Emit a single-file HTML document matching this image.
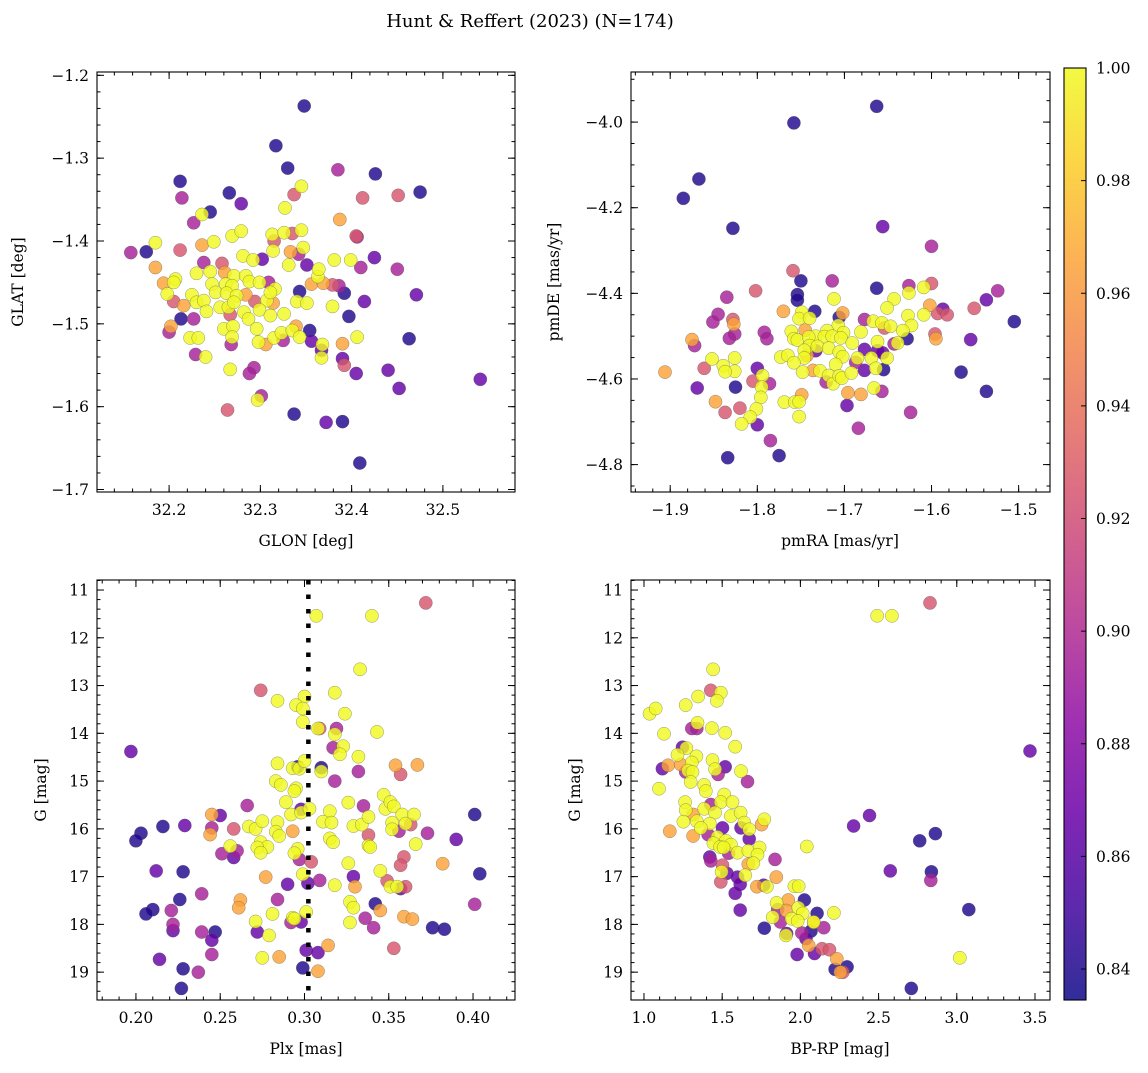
<!DOCTYPE html>
<html><head><meta charset="utf-8"><style>
body{margin:0;background:#fff}
svg text{font-family:"DejaVu Serif","Liberation Serif",serif;fill:#000}
</style></head><body>
<svg id="fig" width="1148" height="1068" viewBox="0 0 1148 1068" xmlns="http://www.w3.org/2000/svg">
<defs><linearGradient id="plasma" x1="0" y1="1" x2="0" y2="0">
<stop offset="0" stop-color="#0d0887"/><stop offset="0.1" stop-color="#41049d"/><stop offset="0.2" stop-color="#6a00a8"/><stop offset="0.3" stop-color="#8f0da4"/><stop offset="0.4" stop-color="#b12a90"/><stop offset="0.5" stop-color="#cc4778"/><stop offset="0.6" stop-color="#e16462"/><stop offset="0.7" stop-color="#f2844b"/><stop offset="0.8" stop-color="#fca636"/><stop offset="0.9" stop-color="#fcce25"/><stop offset="1" stop-color="#f0f921"/></linearGradient></defs>
<text x="530" y="27" font-size="18" text-anchor="middle">Hunt &amp; Reffert (2023) (N=174)</text>
<text x="306" y="546" font-size="15.5" text-anchor="middle">GLON [deg]</text>
<text transform="translate(23,282) rotate(-90)" font-size="15.5" text-anchor="middle">GLAT [deg]</text>
<text x="840" y="546" font-size="15.5" text-anchor="middle">pmRA [mas/yr]</text>
<text transform="translate(559,282) rotate(-90)" font-size="15.5" text-anchor="middle">pmDE [mas/yr]</text>
<text x="306" y="1054" font-size="15.5" text-anchor="middle">Plx [mas]</text>
<text transform="translate(46,790) rotate(-90)" font-size="15.5" text-anchor="middle">G [mag]</text>
<text x="840" y="1054" font-size="15.5" text-anchor="middle">BP-RP [mag]</text>
<text transform="translate(580,790) rotate(-90)" font-size="15.5" text-anchor="middle">G [mag]</text>
</svg>
<script>
const glon=[32.348,32.317,32.330,32.385,32.426,32.475,32.212,32.214,32.266,32.279,32.337,32.345,32.412,32.451,32.327,32.245,32.236,32.227,32.387,32.405,32.406,32.158,32.175,32.185,32.212,32.236,32.249,32.269,32.279,32.313,32.326,32.335,32.345,32.315,32.314,32.333,32.342,32.347,32.281,32.302,32.292,32.331,32.351,32.425,32.381,32.399,32.410,32.450,32.471,32.185,32.194,32.207,32.205,32.238,32.230,32.245,32.258,32.261,32.271,32.284,32.288,32.299,32.309,32.316,32.247,32.262,32.269,32.251,32.263,32.274,32.284,32.225,32.198,32.205,32.216,32.230,32.238,32.256,32.241,32.265,32.271,32.294,32.307,32.311,32.314,32.343,32.356,32.363,32.364,32.369,32.379,32.386,32.392,32.414,32.340,32.351,32.379,32.397,32.282,32.299,32.311,32.326,32.267,32.287,32.213,32.227,32.202,32.200,32.260,32.270,32.296,32.339,32.354,32.223,32.232,32.269,32.298,32.306,32.315,32.325,32.323,32.335,32.343,32.356,32.368,32.367,32.367,32.390,32.406,32.390,32.392,32.463,32.268,32.229,32.240,32.267,32.293,32.288,32.405,32.440,32.452,32.541,32.301,32.297,32.264,32.337,32.372,32.390,32.409];
const glat=[-1.237,-1.285,-1.312,-1.314,-1.319,-1.341,-1.328,-1.348,-1.342,-1.355,-1.344,-1.334,-1.348,-1.345,-1.360,-1.365,-1.368,-1.378,-1.374,-1.394,-1.395,-1.414,-1.413,-1.402,-1.411,-1.405,-1.401,-1.394,-1.388,-1.392,-1.390,-1.391,-1.387,-1.400,-1.412,-1.413,-1.416,-1.408,-1.418,-1.422,-1.423,-1.429,-1.429,-1.420,-1.423,-1.423,-1.432,-1.434,-1.465,-1.432,-1.451,-1.446,-1.450,-1.426,-1.439,-1.437,-1.427,-1.438,-1.442,-1.442,-1.449,-1.450,-1.450,-1.458,-1.452,-1.452,-1.454,-1.462,-1.463,-1.466,-1.465,-1.465,-1.464,-1.473,-1.478,-1.474,-1.472,-1.480,-1.485,-1.480,-1.474,-1.473,-1.472,-1.462,-1.475,-1.461,-1.452,-1.443,-1.434,-1.451,-1.453,-1.454,-1.463,-1.473,-1.473,-1.475,-1.479,-1.491,-1.486,-1.483,-1.490,-1.488,-1.489,-1.494,-1.494,-1.494,-1.503,-1.510,-1.506,-1.503,-1.506,-1.503,-1.508,-1.517,-1.517,-1.516,-1.522,-1.525,-1.517,-1.520,-1.511,-1.508,-1.516,-1.521,-1.525,-1.532,-1.541,-1.524,-1.516,-1.542,-1.550,-1.518,-1.525,-1.537,-1.540,-1.555,-1.553,-1.560,-1.560,-1.556,-1.578,-1.567,-1.587,-1.592,-1.604,-1.609,-1.619,-1.618,-1.668];
const probA=[.84,.84,.84,.895,.84,.84,.84,.895,.84,.865,.925,1,.925,.925,1,.84,1,.895,.965,.925,.895,.895,.84,1,.925,.965,1,1,1,1,1,.925,1,.925,1,.965,.895,1,1,.865,1,1,.865,.865,1,1,.895,.895,.865,.965,.965,1,1,.895,1,1,.925,.965,1,1,1,1,.895,1,1,1,1,1,1,1,.965,1,1,.925,.965,1,1,1,1,1,1,.925,1,1,.965,.84,.965,1,1,.965,.925,.895,.84,.865,1,1,1,.84,1,1,1,1,.925,1,.84,.895,.965,.895,1,1,1,.965,.84,1,1,1,1,.965,1,.895,1,1,1,.865,1,.865,1,.965,1,.865,.925,.84,.895,.895,1,1,.895,.895,.865,.865,.865,.865,.895,1,.925,.84,.865,.84,.84];

const pmra=[-1.663,-1.758,-1.867,-1.885,-1.828,-1.656,-1.600,-1.759,-1.750,-1.714,-1.663,-1.626,-1.600,-1.609,-1.626,-1.754,-1.754,-1.802,-1.835,-1.712,-1.643,-1.651,-1.524,-1.537,-1.551,-1.505,-1.602,-1.587,-1.593,-1.582,-1.770,-1.734,-1.749,-1.752,-1.740,-1.702,-1.706,-1.845,-1.851,-1.828,-1.827,-1.677,-1.667,-1.657,-1.654,-1.647,-1.681,-1.627,-1.609,-1.623,-1.633,-1.707,-1.720,-1.701,-1.745,-1.733,-1.723,-1.714,-1.704,-1.691,-1.761,-1.758,-1.754,-1.741,-1.792,-1.789,-1.826,-1.832,-1.875,-1.872,-1.740,-1.731,-1.718,-1.746,-1.733,-1.706,-1.702,-1.677,-1.662,-1.656,-1.662,-1.643,-1.639,-1.628,-1.596,-1.595,-1.555,-1.773,-1.765,-1.746,-1.758,-1.743,-1.685,-1.669,-1.651,-1.687,-1.677,-1.664,-1.655,-1.852,-1.839,-1.826,-1.826,-1.837,-1.800,-1.794,-1.795,-1.805,-1.786,-1.796,-1.801,-1.808,-1.818,-1.800,-1.785,-1.775,-1.834,-1.748,-1.736,-1.728,-1.718,-1.721,-1.713,-1.710,-1.706,-1.703,-1.692,-1.666,-1.657,-1.696,-1.681,-1.697,-1.684,-1.624,-1.566,-1.537,-1.906,-1.861,-1.869,-1.825,-1.848,-1.837,-1.820,-1.769,-1.757,-1.752,-1.749,-1.752];
const pmde=[-3.963,-4.002,-4.133,-4.178,-4.248,-4.244,-4.290,-4.347,-4.371,-4.371,-4.388,-4.382,-4.377,-4.386,-4.399,-4.403,-4.416,-4.394,-4.409,-4.413,-4.413,-4.434,-4.394,-4.415,-4.435,-4.466,-4.428,-4.437,-4.447,-4.450,-4.442,-4.442,-4.444,-4.459,-4.458,-4.446,-4.456,-4.449,-4.467,-4.461,-4.472,-4.461,-4.465,-4.469,-4.481,-4.477,-4.490,-4.452,-4.450,-4.475,-4.487,-4.475,-4.487,-4.492,-4.486,-4.500,-4.501,-4.500,-4.504,-4.516,-4.489,-4.506,-4.509,-4.502,-4.491,-4.506,-4.495,-4.505,-4.508,-4.522,-4.522,-4.524,-4.528,-4.533,-4.534,-4.537,-4.548,-4.531,-4.534,-4.539,-4.513,-4.518,-4.516,-4.506,-4.495,-4.506,-4.508,-4.549,-4.545,-4.551,-4.562,-4.545,-4.551,-4.551,-4.551,-4.561,-4.580,-4.575,-4.578,-4.553,-4.569,-4.551,-4.582,-4.583,-4.575,-4.592,-4.619,-4.605,-4.611,-4.643,-4.670,-4.689,-4.705,-4.707,-4.744,-4.779,-4.784,-4.584,-4.580,-4.581,-4.592,-4.607,-4.611,-4.566,-4.593,-4.598,-4.586,-4.621,-4.629,-4.632,-4.636,-4.662,-4.715,-4.678,-4.584,-4.629,-4.584,-4.575,-4.621,-4.619,-4.653,-4.678,-4.668,-4.654,-4.654,-4.653,-4.637,-4.688];
const probB=[.84,.84,.84,.84,.84,.865,.895,.925,.84,.895,.84,.895,.925,1,1,.84,.84,.925,.895,1,1,1,.895,.865,.925,.84,.965,.865,.925,.925,.965,.84,1,1,1,.965,.84,.895,.895,.925,.965,.895,1,1,.925,1,1,1,1,1,1,1,1,1,.965,1,1,1,1,1,1,1,1,1,.895,.895,.895,.895,.965,.895,1,1,1,1,.865,1,1,.865,.865,.865,1,.895,1,.84,.925,.965,.865,1,1,1,1,.965,1,1,1,.895,.865,1,.84,1,1,1,1,1,.865,1,1,.925,.895,1,1,1,1,.865,.895,.84,.84,1,.965,1,1,.895,1,1,1,1,1,1,.895,.965,.965,.865,.895,.895,.84,.84,.965,.925,.865,.84,.965,.925,.925,1,1,1,.965,1];

const plx=[.372,.307,.340,.333,.274,.284,.318,.300,.295,.299,.324,.299,.309,.308,.319,.318,.343,.317,.323,.321,.332,.197,.284,.296,.293,.297,.300,.310,.310,.332,.318,.354,.367,.357,.283,.286,.295,.294,.289,.292,.298,.298,.303,.266,.250,.245,.229,.216,.203,.200,.245,.258,.244,.267,.271,.275,.284,.283,.285,.293,.315,.311,.316,.326,.329,.334,.335,.338,.347,.348,.351,.353,.352,.352,.356,.358,.365,.363,.360,.373,.401,.390,.338,.338,.339,.366,.315,.317,.256,.260,.251,.258,.274,.278,.272,.274,.296,.294,.297,.304,.359,.357,.382,.326,.345,.212,.228,.404,.277,.299,.329,.309,.290,.302,.318,.330,.349,.351,.355,.357,.360,.239,.226,.262,.261,.284,.327,.329,.342,.345,.210,.206,.221,.271,.281,.293,.294,.292,.298,.301,.327,.336,.341,.359,.364,.376,.383,.401,.222,.222,.239,.247,.245,.272,.279,.353,.314,.301,.308,.245,.275,.285,.214,.228,.237,.299,.308,.227];
const gmagC=[11.27,11.54,11.54,12.66,13.10,13.32,13.15,13.23,13.41,13.48,13.59,13.76,13.90,13.90,13.90,14.02,13.97,14.30,14.27,14.44,14.49,14.38,14.63,14.70,14.73,14.74,14.58,14.72,14.80,14.80,15.00,14.67,14.66,14.86,15.00,15.08,15.15,15.21,15.44,15.70,15.59,15.66,15.58,15.51,15.72,15.70,15.93,15.95,16.09,16.25,15.98,16.00,16.12,15.95,16.00,15.84,15.86,16.06,16.15,16.05,15.63,15.85,15.87,15.45,15.94,15.91,15.52,15.75,15.29,15.58,15.44,15.53,15.87,16.01,16.05,15.70,15.70,15.91,15.89,16.09,15.70,16.22,16.13,16.35,16.38,16.32,16.20,16.28,16.36,16.46,16.52,16.60,16.28,16.38,16.39,16.50,16.42,16.51,16.64,16.69,16.59,16.76,16.73,16.72,16.88,16.88,16.90,16.94,17.01,16.95,17.00,17.08,17.16,17.14,17.18,17.21,17.09,17.21,17.21,17.25,17.21,17.36,17.48,17.49,17.65,17.48,17.53,17.65,17.57,17.71,17.69,17.78,17.71,17.94,17.78,17.86,17.88,17.96,17.95,17.74,17.96,17.87,18.07,17.84,17.89,18.07,18.10,17.58,18.00,18.13,18.16,18.16,18.33,18.16,18.23,18.50,18.44,18.54,18.59,18.63,18.70,18.68,18.73,18.93,19.00,18.91,18.98,19.34];
const probC=[.925,1,1,1,.925,1,1,1,1,1,1,1,.925,1,.895,1,1,.895,1,1,1,.865,1,.84,1,1,1,.84,1,.895,.895,.965,.965,.925,1,1,1,1,1,1,.865,1,1,.895,.865,.965,.865,.84,.84,.84,.895,.925,.965,1,1,1,1,1,1,.965,1,1,1,1,1,1,.895,1,1,1,1,1,1,1,.895,1,1,.925,1,.895,.84,.865,.925,1,1,1,1,1,1,.895,.895,.865,1,1,1,1,1,1,.895,.925,.925,.925,.965,1,1,.865,.84,.84,.965,1,.865,.895,.865,.865,1,.965,.925,1,1,.865,.925,.895,.84,.965,.965,.895,1,1,.84,.965,.84,.84,.895,1,1,1,1,.895,.865,1,1,.895,.895,.965,.965,.84,.84,.895,.895,.865,.895,.84,.865,.865,1,.925,.965,.865,.865,.895,1,.965,.865,.84,.895,.84,.965,.84];

const bprp=[2.829,2.491,2.585,1.442,1.427,1.491,1.466,1.346,1.267,1.036,1.075,1.342,1.306,1.338,1.434,1.519,1.128,1.583,1.246,1.271,1.214,1.335,1.235,1.306,1.282,1.310,1.267,1.438,1.455,1.519,1.474,1.118,1.154,1.620,1.662,1.299,1.385,1.395,1.096,3.468,1.513,1.263,1.267,1.427,1.385,1.491,1.566,1.455,1.556,1.618,1.316,1.252,1.338,1.421,1.363,1.752,1.769,1.641,1.620,1.673,1.502,1.165,1.314,1.410,1.470,1.673,1.444,1.524,1.556,1.487,1.509,1.598,1.541,1.667,1.739,1.726,2.041,1.421,1.427,1.838,1.699,1.667,1.502,1.530,1.496,1.598,1.647,1.491,1.615,1.722,1.765,1.786,1.846,1.962,1.989,1.583,1.615,1.848,1.923,2.026,1.987,1.910,1.855,2.015,2.107,2.214,1.823,1.944,1.983,2.085,2.085,1.872,2.150,1.769,1.912,1.908,2.009,2.068,2.036,2.053,1.979,2.090,2.139,2.186,2.233,2.299,2.222,2.271,2.256,2.340,2.442,2.763,2.863,2.575,2.838,2.834,3.077,3.019,2.709];
const gmagD=[11.27,11.54,11.54,12.66,13.10,13.15,13.32,13.23,13.41,13.59,13.48,13.78,13.90,13.90,13.89,13.99,14.01,14.28,14.29,14.31,14.45,14.48,14.65,14.61,14.78,14.81,14.81,14.56,14.75,14.70,14.86,14.74,14.67,14.79,15.01,15.02,15.08,15.21,15.16,14.37,15.28,15.44,15.61,15.49,15.58,15.44,15.44,15.66,15.73,15.66,15.70,15.85,15.84,15.89,15.98,15.91,15.80,15.87,15.98,16.01,15.98,16.05,16.15,16.12,16.17,16.21,16.30,16.25,16.33,16.38,16.39,16.50,16.51,16.46,16.39,16.54,16.37,16.59,16.67,16.64,16.72,16.74,16.76,16.93,16.90,17.01,16.97,17.11,17.16,17.21,17.18,17.21,17.01,17.20,17.20,17.35,17.70,17.55,17.49,17.49,17.65,17.71,17.69,17.77,17.77,17.76,17.85,17.88,17.93,17.95,17.96,17.95,18.07,18.08,18.19,18.23,18.18,18.14,18.30,18.44,18.63,18.61,18.51,18.53,18.72,18.89,18.94,19.00,19.00,15.94,15.72,16.25,16.10,16.88,16.90,17.08,17.69,18.70,19.34];
const probD=[.925,1,1,1,.925,1,1,1,1,1,1,1,.895,.895,1,1,1,1,.865,1,1,1,.965,1,1,1,.895,1,1,.865,.895,.865,.965,1,.895,1,1,1,1,.865,1,1,1,.895,1,1,1,1,1,1,.965,1,1,1,1,.965,1,1,.865,1,.865,.965,.965,.895,1,.865,1,1,1,1,1,1,.895,1,1,1,1,.865,.895,.895,1,.965,.925,.865,1,.865,1,.925,.865,.965,.865,1,.965,1,1,.865,.865,1,.965,.84,1,.965,.895,1,.84,1,1,1,1,1,.965,.895,.895,.84,.865,1,.895,.84,.865,.965,.865,.865,.925,.925,.965,.84,.84,.925,.965,.865,.865,.84,.84,.865,.84,.895,.84,1,.84];

const vmin=0.8345, vmax=1.0;
const stops=["#0d0887","#41049d","#6a00a8","#8f0da4","#b12a90","#cc4778","#e16462","#f2844b","#fca636","#fcce25","#f0f921"];
function hx(h){return [1,3,5].map(i=>parseInt(h.substr(i,2),16));}
function cmap(v){let t=Math.max(0,Math.min(1,(v-vmin)/(vmax-vmin)))*10;let i=Math.min(9,Math.floor(t)),f=t-i;const a=hx(stops[i]),b=hx(stops[i+1]);return "rgb("+a.map((x,k)=>Math.round(x+(b[k]-x)*f)).join(",")+")";}
const NS="http://www.w3.org/2000/svg";
const svg=document.getElementById("fig");
function mk(tag,attrs,parent){const e=document.createElementNS(NS,tag);for(const k in attrs)e.setAttribute(k,attrs[k]);(parent||svg).appendChild(e);return e;}
function fmt(v,d){return (v<0?"\u2212":"")+Math.abs(v).toFixed(d);}

function panel(cfg){
  const g=mk("g",{});
  
  
  const sx=v=>cfg.l+(v-cfg.x0)/(cfg.x1-cfg.x0)*(cfg.r-cfg.l);
  const sy=v=>cfg.t+(v-cfg.yT)/(cfg.yB-cfg.yT)*(cfg.b-cfg.t);
  const idx=cfg.xs.map((_,i)=>i).sort((a,b)=>cfg.cs[a]-cfg.cs[b]);
  const pg=mk("g",{},g);
  
  
  idx.forEach(i=>{
    const c=mk("circle",{cx:sx(cfg.xs[i]).toFixed(1),cy:sy(cfg.ys[i]).toFixed(1),r:6.6,fill:cmap(cfg.cs[i]),"fill-opacity":0.82,stroke:"#555","stroke-width":0.5,"stroke-opacity":0.6},pg);
    
    
  });
  if(cfg.vline!==undefined){
    const ln=mk("line",{x1:sx(cfg.vline),x2:sx(cfg.vline),y1:cfg.t,y2:cfg.b,stroke:"#000","stroke-width":4.5,"stroke-dasharray":"4.5 10"},g);
    
    
  }
  const fr=mk("rect",{x:cfg.l,y:cfg.t,width:cfg.r-cfg.l,height:cfg.b-cfg.t,fill:"none",stroke:"#000","stroke-width":1.1},g);
  
  
  const tk=(x1,y1,x2,y2)=>mk("line",{x1,y1,x2,y2,stroke:"#000","stroke-width":1},g);
  const lo=Math.min(cfg.x0,cfg.x1),hi=Math.max(cfg.x0,cfg.x1);
  for(let k=Math.ceil(lo/cfg.xm-1e-6);k*cfg.xm<=hi+1e-9;k++){const x=sx(k*cfg.xm);tk(x,cfg.b,x,cfg.b-3.5);tk(x,cfg.t,x,cfg.t+3.5);}
  const ylo=Math.min(cfg.yT,cfg.yB),yhi=Math.max(cfg.yT,cfg.yB);
  for(let k=Math.ceil(ylo/cfg.ym-1e-6);k*cfg.ym<=yhi+1e-9;k++){const y=sy(k*cfg.ym);tk(cfg.l,y,cfg.l+3.5,y);tk(cfg.r,y,cfg.r-3.5,y);}
  cfg.xt.forEach(v=>{const x=sx(v);tk(x,cfg.b,x,cfg.b-7);tk(x,cfg.t,x,cfg.t+7);
    const t=mk("text",{x:x,y:cfg.b+23,"font-size":15.5,"text-anchor":"middle"},g);t.textContent=fmt(v,cfg.xd);
    
    });
  cfg.yt.forEach(v=>{const y=sy(v);tk(cfg.l,y,cfg.l+7,y);tk(cfg.r,y,cfg.r-7,y);
    const t=mk("text",{x:cfg.l-8,y:y+5.5,"font-size":15.5,"text-anchor":"end"},g);t.textContent=fmt(v,cfg.yd);
    
    });
}

panel({name:"panel-position",l:97,r:515,t:72,b:492,x0:32.121,x1:32.579,yT:-1.196,yB:-1.703,xs:glon,ys:glat,cs:probA,xt:[32.2,32.3,32.4,32.5],xd:1,xm:0.02,yt:[-1.2,-1.3,-1.4,-1.5,-1.6,-1.7],yd:1,ym:0.02});
panel({name:"panel-proper-motion",l:631,r:1050,t:72,b:492,x0:-1.945,x1:-1.464,yT:-3.883,yB:-4.864,xs:pmra,ys:pmde,cs:probB,xt:[-1.9,-1.8,-1.7,-1.6,-1.5],xd:1,xm:0.02,yt:[-4.0,-4.2,-4.4,-4.6,-4.8],yd:1,ym:0.05});
panel({name:"panel-parallax",l:97,r:515,t:580,b:1000,x0:0.1769,x1:0.4249,yT:10.79,yB:19.583,xs:plx,ys:gmagC,cs:probC,xt:[0.20,0.25,0.30,0.35,0.40],xd:2,xm:0.01,yt:[11,12,13,14,15,16,17,18,19],yd:0,ym:0.2,vline:0.3023});
panel({name:"panel-cmd",l:631,r:1050,t:580,b:1000,x0:0.917,x1:3.596,yT:10.79,yB:19.583,xs:bprp,ys:gmagD,cs:probD,xt:[1.0,1.5,2.0,2.5,3.0,3.5],xd:1,xm:0.1,yt:[11,12,13,14,15,16,17,18,19],yd:0,ym:0.2});

const cbTicks=[0.84,0.86,0.88,0.90,0.92,0.94,0.96,0.98,1.00];
const cb=mk("g",{});


const cbT=68,cbB=1000,cbL=1064,cbR=1086;
const cy=v=>cbB-(v-vmin)/(vmax-vmin)*(cbB-cbT);
mk("rect",{x:cbL,y:cbT,width:cbR-cbL,height:cbB-cbT,fill:"url(#plasma)","fill-opacity":0.85,stroke:"#000","stroke-width":1.1},cb);
cbTicks.forEach(v=>{const y=cy(v);mk("line",{x1:cbR,x2:cbR-5,y1:y,y2:y,stroke:"#000","stroke-width":1},cb);
  const t=mk("text",{x:cbR+10,y:y+5.5,"font-size":15.5,"text-anchor":"start"},cb);t.textContent=v.toFixed(2);
  
  });
</script>
</body></html>
